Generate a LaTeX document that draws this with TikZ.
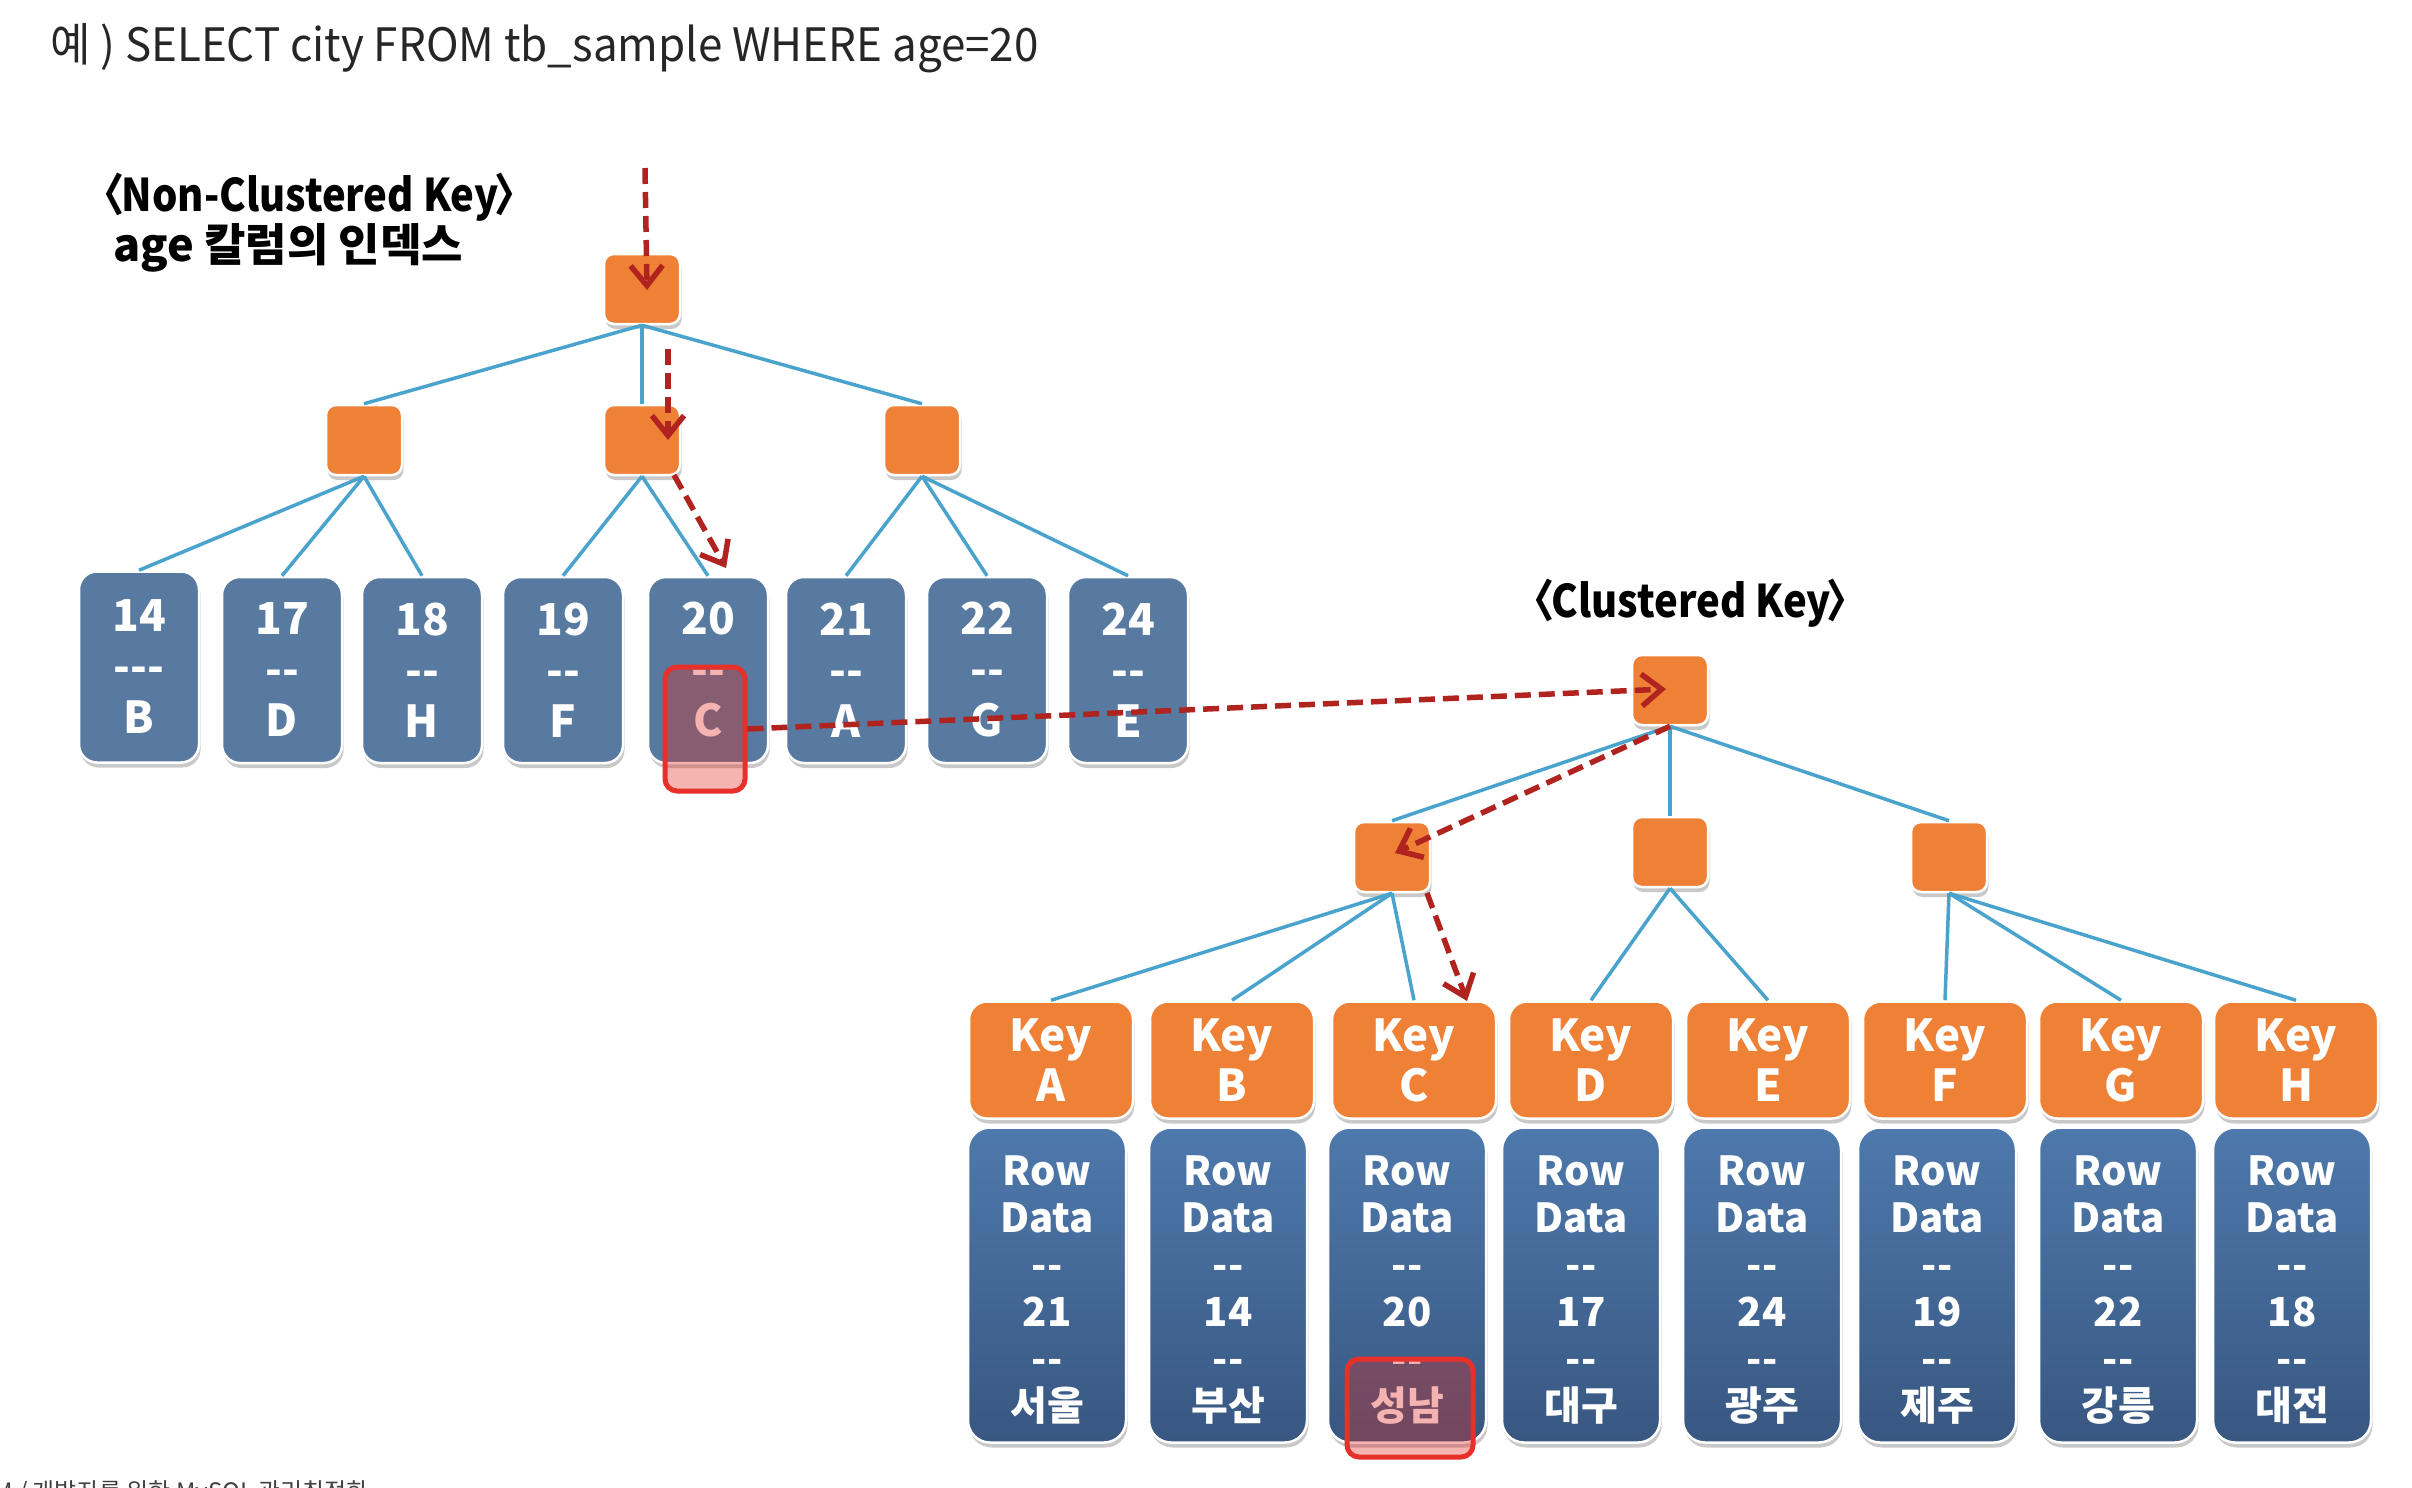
\documentclass[tikz,border=0pt]{standalone}
\usepackage{fontspec}
\setmainfont{Noto Sans CJK KR}
\newfontfamily\titlefont[FakeStretch=0.955]{Noto Sans CJK KR}
\newfontfamily\narrowfont[FakeStretch=0.89]{Noto Sans CJK KR}
\usetikzlibrary{arrows.meta,shadows}
\definecolor{org}{HTML}{EF8137}
\definecolor{leafblue}{HTML}{587AA0}
\definecolor{rowtop}{HTML}{4E79AC}
\definecolor{rowbot}{HTML}{385781}
\definecolor{linkblue}{HTML}{4AA3CD}
\definecolor{tracered}{HTML}{B0231E}
\definecolor{hlred}{HTML}{E8302A}
\definecolor{hlfill}{HTML}{E1281E}
\tikzset{
 shad/.style={drop shadow={shadow xshift=1.5pt,shadow yshift=-5pt,opacity=0.3,fill=black!70}},
 inode/.style={draw=white,line width=2.5pt,fill=org,rounded corners=10pt,minimum width=76pt,minimum height=70pt,inner sep=0pt,shad},
 leafbox/.style={draw=white,line width=2.5pt,fill=leafblue,rounded corners=18pt,minimum width=120pt,minimum height=186pt,shad,text=white,font=\bfseries\fontsize{44}{51}\selectfont,align=center,inner sep=0pt},
 keybox/.style={draw=white,line width=2.5pt,fill=org,rounded corners=18pt,minimum width=164pt,minimum height=117pt,shad,text=white,font=\bfseries\fontsize{44}{50}\selectfont,align=center,inner sep=0pt},
 rowbox/.style={draw=white,line width=2.5pt,top color=rowtop,bottom color=rowbot,rounded corners=22pt,minimum width=158pt,minimum height=315pt,shad,inner sep=0pt},
 rowtext/.style={text=white,font=\bfseries\fontsize{40}{47}\selectfont,align=center,inner sep=0pt},
 link/.style={draw=linkblue,line width=3.5pt},
 trace/.style={draw=tracered,line width=5.5pt,dash pattern=on 16pt off 8pt,-{Straight Barb[length=20pt,width=32pt]}},
 hlbox/.style={draw=hlred,line width=5pt,fill=hlfill,fill opacity=0.35,draw opacity=1,rounded corners=12pt,inner sep=0pt},
 lbl/.style={font=\bfseries\fontsize{45}{50}\selectfont,anchor=base west,inner sep=0pt},
}
\begin{document}
\begin{tikzpicture}[x=1pt,y=-1pt]
\useasboundingbox (0,0) rectangle (2412,1488);
% title
\node[anchor=base west,inner sep=0pt,font=\titlefont\fontsize{46}{50}\selectfont,text=black!85] (title) at (50,62) {예 ) SELECT city FROM tb\_sample WHERE age=20};
% labels
\node[lbl,font=\narrowfont\bfseries\fontsize{45}{50}\selectfont] (nclbl) at (84,211) {〈\kern-0.06emNon-Clustered Key\kern-0.1em〉};
\node[lbl] (nclbl2) at (113,261) {age 칼럼의 인덱스};
\node[lbl,font=\narrowfont\bfseries\fontsize{45}{50}\selectfont] (cklbl) at (1514,617) {〈\kern-0.06emClustered Key\kern-0.1em〉};
% non-clustered tree
\node[inode] (r) at (642,289) {};
\node[inode] (a1) at (364,440) {};
\node[inode] (a2) at (642,440) {};
\node[inode] (a3) at (922,440) {};
\node[leafbox,minimum height=191pt] (l1) at (139,667) {14\\-{}-{}-\\B};
\node[leafbox] (l2) at (282,670) {17\\-{}-\\D};
\node[leafbox] (l3) at (422,670) {18\\-{}-\\H};
\node[leafbox] (l4) at (563,670) {19\\-{}-\\F};
\node[leafbox] (l5) at (708,670) {20\\-{}-\\C};
\node[leafbox] (l6) at (846,670) {21\\-{}-\\A};
\node[leafbox] (l7) at (987,670) {22\\-{}-\\G};
\node[leafbox] (l8) at (1128,670) {24\\-{}-\\E};
\draw[link] (r.south) -- (a1.north);
\draw[link] (r.south) -- (a2.north);
\draw[link] (r.south) -- (a3.north);
\draw[link] (a1.south) -- (l1.north);
\draw[link] (a1.south) -- (l2.north);
\draw[link] (a1.south) -- (l3.north);
\draw[link] (a2.south) -- (l4.north);
\draw[link] (a2.south) -- (l5.north);
\draw[link] (a3.south) -- (l6.north);
\draw[link] (a3.south) -- (l7.north);
\draw[link] (a3.south) -- (l8.north);
% clustered tree
\node[inode] (cr) at (1670,690) {};
\node[inode] (b1) at (1392,857) {};
\node[inode] (b2) at (1670,852) {};
\node[inode] (b3) at (1949,857) {};
\foreach \n/\x/\k in {ka/1051/A,kb/1232/B,kc/1414/C,kd/1591/D,ke/1768/E,kf/1945/F,kg/2121/G,kh/2296/H}
  \node[keybox] (\n) at (\x,1060) {Key\\\k};
\foreach \n/\x/\v/\c in {ra/1047/21/서울,rb/1228/14/부산,rc/1407/20/성남,rd/1581/17/대구,re/1762/24/광주,rf/1937/19/제주,rg/2118/22/강릉,rh/2292/18/대전}{
  \node[rowbox] (\n) at (\x,1285) {};
  \node[rowtext] (\n-t) at ([yshift=-5pt]\n.center) {Row\\Data\\-{}-\\\v\\-{}-\\\c};
}
\draw[link] (cr.south) -- (b1.north);
\draw[link] (cr.south) -- (b2.north);
\draw[link] (cr.south) -- (b3.north);
\draw[link] (b1.south) -- (ka.north);
\draw[link] (b1.south) -- (kb.north);
\draw[link] (b1.south) -- (kc.north);
\draw[link] (b2.south) -- (kd.north);
\draw[link] (b2.south) -- (ke.north);
\draw[link] (b3.south) -- (kf.north);
\draw[link] (b3.south) -- (kg.north);
\draw[link] (b3.south) -- (kh.north);
% highlights
\node[hlbox,minimum width=80pt,minimum height=124pt] (hl1) at (705,729) {};
\node[hlbox,minimum width=126pt,minimum height=98pt] (hl2) at (1410,1408) {};
% traces
\coordinate (s1) at (645,168);
\coordinate (t1) at (647,290);
\coordinate (s2) at (668,349);
\coordinate (t2) at (668,440);
\coordinate (s3) at (674,475);
\coordinate (t3) at (726,568);
\coordinate (t4) at (1666,689);
\coordinate (t5) at (1395,853);
\coordinate (s6) at (1427,893);
\coordinate (t6) at (1467,1001);
\draw[trace] (s1) -- (t1);
\draw[trace] (s2) -- (t2);
\draw[trace] (s3) -- (t3);
\draw[trace] (hl1.east) -- (t4);
\draw[trace] (cr.south) -- (t5);
\draw[trace] (s6) -- (t6);
% footer (clipped at page edge, as in the reference)
\node[anchor=base west,inner sep=0pt,font=\fontsize{24}{26}\selectfont,text=black!75] (foot) at (-7,1500) {M / 개발자를 위한 MySQL 관리최적화};
\end{tikzpicture}
\end{document}
